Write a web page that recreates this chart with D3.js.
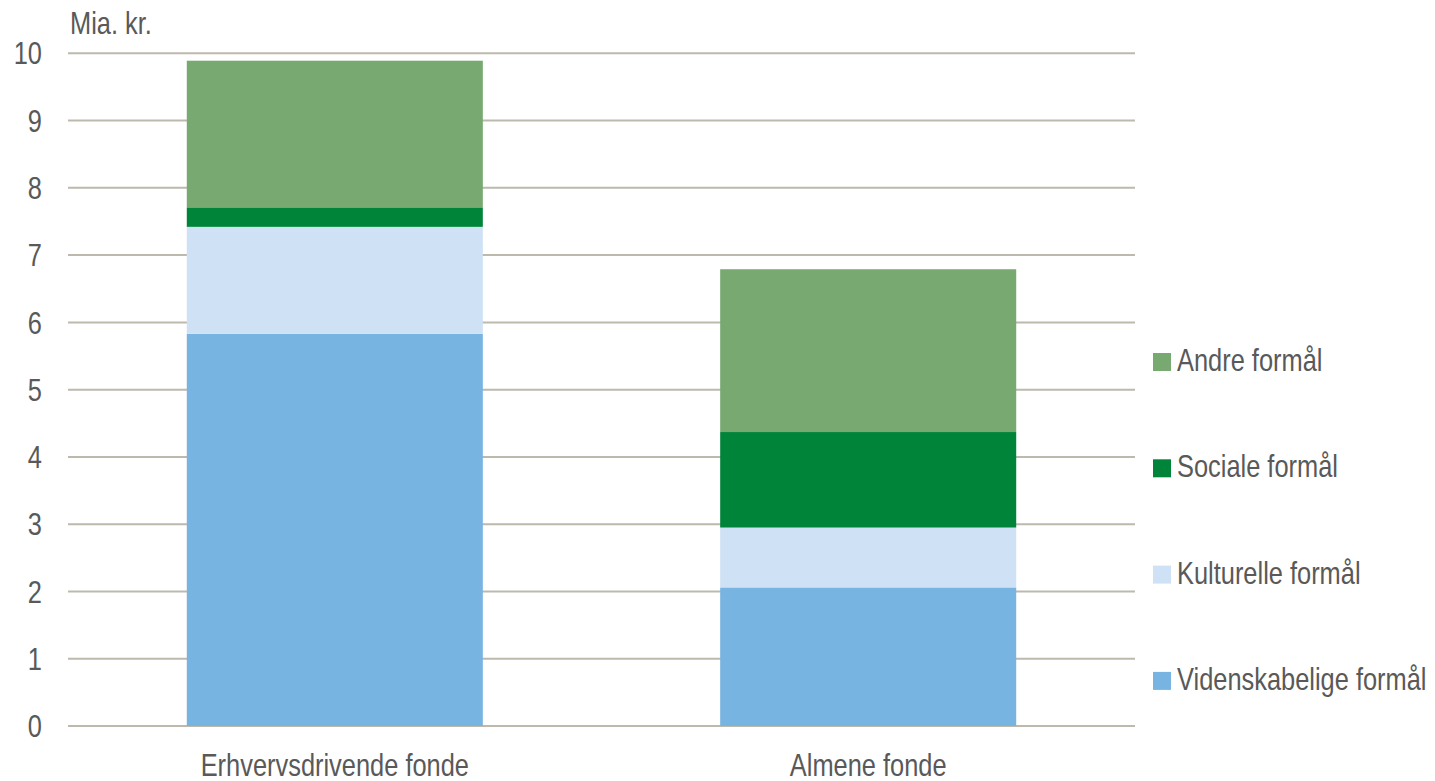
<!DOCTYPE html>
<html>
<head>
<meta charset="utf-8">
<script src="https://cdn.jsdelivr.net/npm/d3@7"></script>
<style>
  body { margin: 0; background: #fff; }
  text { font-family: "Liberation Sans", Arial, sans-serif; fill: #595959; }
</style>
</head>
<body>
<div id="chart"></div>
<script>
// Data (mia. kr.)
const categories = ["Erhvervsdrivende fonde", "Almene fonde"];
const seriesNames = ["Videnskabelige formål", "Kulturelle formål", "Sociale formål", "Andre formål"];
const videnskabelige = [5.83, 2.06];
const kulturelle = [1.59, 0.89];
const sociale = [0.29, 1.42];
const andre = [2.18, 2.42];
const yTicks = [0, 1, 2, 3, 4, 5, 6, 7, 8, 9, 10];
const colors = ["#77b4e2", "#cfe1f5", "#00843a", "#77a971"];

const W = 1435, H = 781;
const narrow = 0.82; // no narrow font installed, squeeze the regular one
const svg = d3.select("#chart").append("svg")
  .attr("width", W).attr("height", H);

// build rows for stacking
const rows = categories.map((c, i) => ({
  cat: c,
  "Videnskabelige formål": videnskabelige[i],
  "Kulturelle formål": kulturelle[i],
  "Sociale formål": sociale[i],
  "Andre formål": andre[i]
}));
const stacked = d3.stack().keys(seriesNames)(rows);

const x = d3.scaleBand().domain(categories).range([68, 1135])
  .paddingInner(0.445).paddingOuter(0.2227);
const y = d3.scaleLinear().domain([0, 10]).range([726, 53.3]);

// gridlines
svg.append("g").selectAll("line")
  .data(yTicks)
  .enter().append("line")
  .attr("x1", 68).attr("x2", 1135)
  .attr("y1", d => y(d)).attr("y2", d => y(d))
  .attr("stroke", "#bdb9ad")
  .attr("stroke-width", 2);

// y tick labels
svg.append("g").selectAll("g")
  .data(yTicks)
  .enter().append("g")
  .attr("transform", d => `translate(42,${y(d)}) scale(${narrow},1)`)
  .append("text")
  .attr("dy", "0.36em")
  .attr("text-anchor", "end")
  .style("font-size", "31px")
  .text(d => d);

svg.append("g")
  .attr("transform", `translate(70,34) scale(${narrow},1)`)
  .append("text")
  .style("font-size", "31px")
  .text("Mia. kr.");

// bars
svg.append("g").selectAll("g")
  .data(stacked)
  .enter().append("g")
  .attr("fill", (d, i) => colors[i])
  .selectAll("rect")
  .data(d => d)
  .enter().append("rect")
  .attr("x", d => x(d.data.cat))
  .attr("width", x.bandwidth())
  .attr("y", d => y(d[1]))
  .attr("height", d => y(d[0]) - y(d[1]));

// category labels
svg.append("g").selectAll("g")
  .data(categories)
  .enter().append("g")
  .attr("transform", d => `translate(${x(d) + x.bandwidth() / 2},776) scale(${narrow},1)`)
  .append("text")
  .attr("text-anchor", "middle")
  .style("font-size", "31px")
  .text(d => d);

// legend (top to bottom: reverse stack order)
const legendItems = seriesNames.map((s, i) => ({ name: s, color: colors[i] })).reverse();
const leg = svg.append("g").selectAll("g")
  .data(legendItems)
  .enter().append("g")
  .attr("transform", (d, i) => `translate(1153, ${371 + i * 106.3})`);

leg.append("rect")
  .attr("x", 0).attr("y", -18)
  .attr("width", 18).attr("height", 18)
  .attr("fill", d => d.color);

leg.append("g")
  .attr("transform", `translate(24,0) scale(${narrow},1)`)
  .append("text")
  .style("font-size", "31px")
  .text(d => d.name);
</script>
</body>
</html>
